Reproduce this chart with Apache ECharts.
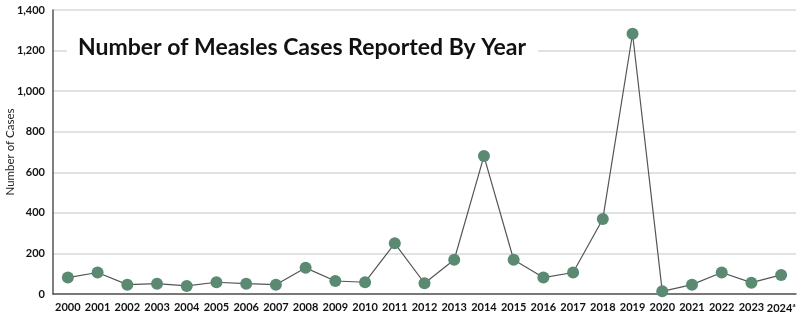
<!DOCTYPE html>
<html><head><meta charset="utf-8">
<script src="https://cdn.jsdelivr.net/npm/echarts@6/dist/echarts.min.js"></script>
<style>html,body{margin:0;padding:0;background:#fff}#c{width:800px;height:329px}</style>
</head><body><div id="c"></div>
<script>
const years = ['2000','2001','2002','2003','2004','2005','2006','2007','2008','2009','2010','2011','2012','2013','2014','2015','2016','2017','2018','2019','2020','2021','2022','2023','2024'];
const cases = [81,106,46,51,40,58,51,46,129,64,58,250,53,169,680,169,81,106,370,1283,13,46,106,56,94];
const yTicks = [0,200,400,600,800,1000,1200,1400];
const titleText = 'Number of Measles Cases Reported By Year';
const yName = 'Number of Cases';

const chart = echarts.init(document.getElementById('c'));
chart.setOption({
  animation:false,
  title:{text:titleText,left:67,top:34,backgroundColor:'#fff',padding:[2,12,2,11],
    textStyle:{fontFamily:'Lato',fontWeight:'bold',fontSize:23,color:'#111'}},
  grid:{left:53,right:4,top:10,bottom:35,containLabel:false,outerBoundsMode:'none'},
  xAxis:{type:'category',data:years,boundaryGap:true,
    axisLine:{lineStyle:{color:'#555',width:1.5}},axisTick:{show:false},
    axisLabel:{fontFamily:'Lato',fontWeight:'bold',fontSize:11,color:'#111',margin:8,interval:0,
      formatter:function(v){return v==='2024'?'{a|2024}{s|a}':'{a|'+v+'}';},
      rich:{a:{fontFamily:'Lato',fontWeight:'bold',fontSize:11,color:'#111'},s:{fontSize:6,verticalAlign:'top',color:'#111',padding:[0,0,6,0]}}}},
  yAxis:{type:'value',min:yTicks[0],max:yTicks[yTicks.length-1],interval:200,
    name:yName,nameLocation:'middle',nameGap:37,nameMoveOverlap:false,
    nameTextStyle:{fontFamily:'Lato',fontSize:11.5,color:'#222'},
    axisLine:{show:true,lineStyle:{color:'#555',width:1.5}},axisTick:{show:false},
    axisLabel:{fontFamily:'Lato',fontWeight:'bold',fontSize:11,color:'#111',margin:8,
      formatter:function(v){return v.toLocaleString('en-US');}},
    splitLine:{lineStyle:{color:'#d9d9d9',width:1.5}}},
  series:[{type:'line',data:cases,symbol:'circle',symbolSize:12,
    lineStyle:{color:'#555',width:1.2},itemStyle:{color:'#5a8a72'},z:3}]
});
</script></body></html>
